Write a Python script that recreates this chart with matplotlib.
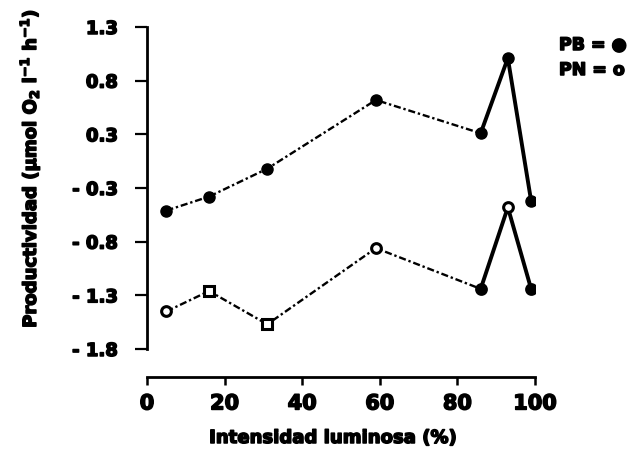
import matplotlib
matplotlib.use("Agg")
import matplotlib.pyplot as plt
import matplotlib.patheffects as pe

# Light intensity (%) and productivity for the two series
intensity = [5, 16, 31, 59, 86, 93, 99]
pb_values = [-0.41, -0.28, -0.02, 0.62, 0.31, 1.01, -0.32]
pn_values = [-1.35, -1.16, -1.47, -0.76, -1.14, -0.38, -1.14]

ytick_positions = [1.3, 0.8, 0.3, -0.2, -0.7, -1.2, -1.7]
ytick_labels = ["1.3", "0.8", "0.3", "- 0.3", "- 0.8", "- 1.3", "- 1.8"]
xtick_values = [0, 20, 40, 60, 80, 100]

plt.rcParams["font.family"] = ["DejaVu Sans"]
plt.rcParams["font.weight"] = "bold"
plt.rcParams["mathtext.default"] = "bf"

heavy = [pe.withStroke(linewidth=1.1, foreground="black")]

W, H = 632, 456
fig = plt.figure(figsize=(W / 100, H / 100), dpi=100)
ax = fig.add_axes([147 / W, 1 - 350 / H, (535 - 147) / W, (350 - 28) / H])

dotted = (0, (3, 1.2, 1, 1.2))
split = 4  # last points are joined with a solid line

# PB series: filled circles
ax.plot(intensity[:split + 1], pb_values[:split + 1], color="black", lw=1.7,
        linestyle=dotted, zorder=2)
ax.plot(intensity[split:], pb_values[split:], color="black", lw=2.8,
        solid_capstyle="round", zorder=2)
ax.plot(intensity, pb_values, linestyle="none", marker="o", ms=8,
        mfc="black", mec="black", zorder=3)

# PN series: open markers
ax.plot(intensity[:split + 1], pn_values[:split + 1], color="black", lw=1.7,
        linestyle=dotted, zorder=2)
ax.plot(intensity[split:], pn_values[split:], color="black", lw=2.8,
        solid_capstyle="round", zorder=2)
pn_marker = ["o", "s", "s", "o", "o", "o", "o"]
pn_face = ["white", "white", "white", "white", "black", "white", "black"]
for x, y, m, fc in zip(intensity, pn_values, pn_marker, pn_face):
    ax.plot([x], [y], linestyle="none", marker=m, ms=7 if m == "o" else 6.5,
            mfc=fc, mec="black", mew=2.2, zorder=3)

ax.set_xlim(0, 100)
ax.set_ylim(-1.7, 1.3)

for side in ("top", "right"):
    ax.spines[side].set_visible(False)
ax.spines["left"].set_linewidth(2)
ax.spines["bottom"].set_linewidth(2)
ax.spines["bottom"].set_position(("outward", 20))

ax.set_yticks(ytick_positions)
ax.set_yticklabels(ytick_labels)
ax.set_xticks(xtick_values)
ax.set_xticklabels([str(v) for v in xtick_values])

ax.tick_params(axis="y", direction="out", length=9, width=1.6, pad=12,
               labelsize=13)
ax.tick_params(axis="x", direction="out", length=6, width=1.8, pad=6,
               labelsize=15)
for lab in ax.get_xticklabels() + ax.get_yticklabels():
    lab.set_fontweight("bold")
    lab.set_path_effects(heavy)

fig.text(332 / W, 1 - 439 / H, "Intensidad luminosa (%)", ha="center",
         va="center", fontsize=13, fontweight="bold", path_effects=heavy)
fig.text(30 / W, 1 - 170 / H,
         r"Productividad ($\mu$mol O$_2$ l$^{-1}$ h$^{-1}$)",
         rotation=90, ha="center", va="center", fontsize=13,
         fontweight="bold", path_effects=heavy)

fig.text(559 / W, 1 - 46 / H, "PB = ●", ha="left", va="center",
         fontsize=12.5, fontweight="bold", path_effects=heavy)
fig.text(559 / W, 1 - 71 / H, "PN = o", ha="left", va="center",
         fontsize=12.5, fontweight="bold", path_effects=heavy)

fig.savefig("out.png", dpi=100)
